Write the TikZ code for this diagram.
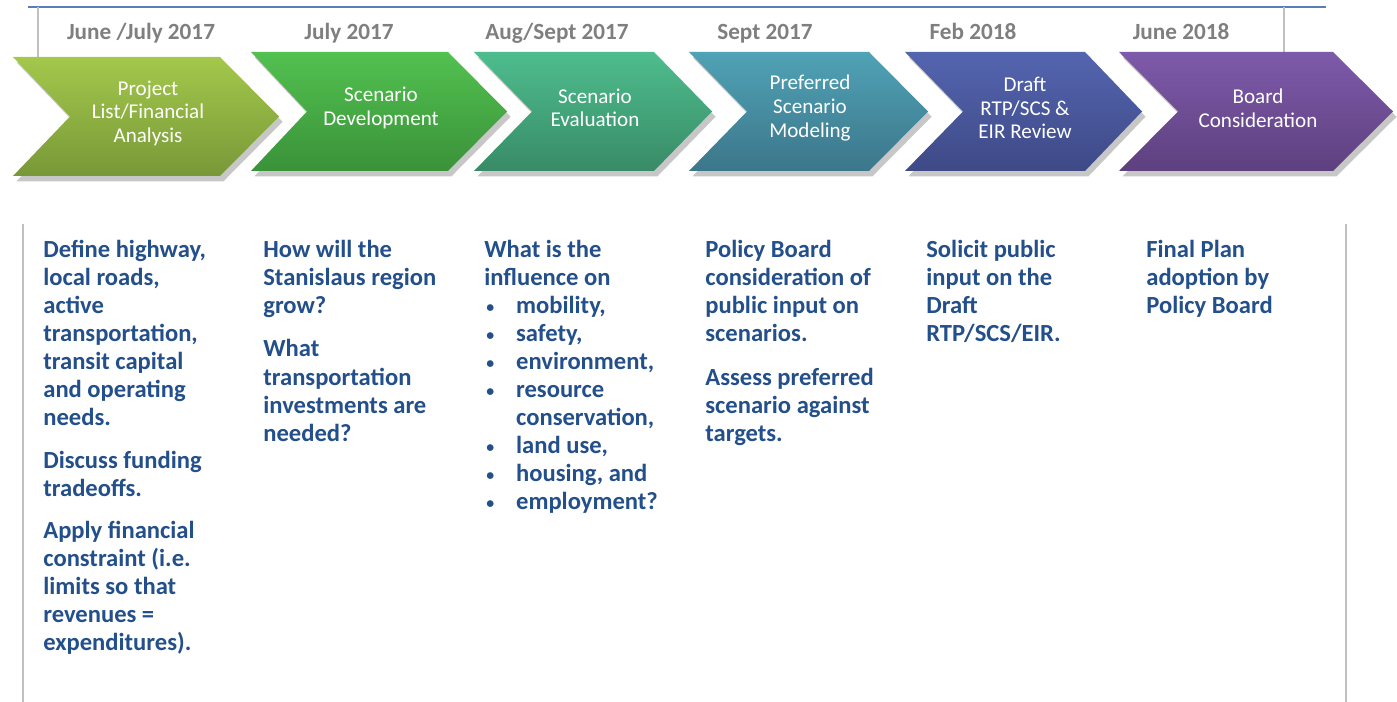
\documentclass[tikz,border=0pt]{standalone}
\usepackage{fontspec}
\setmainfont{Carlito}
\usetikzlibrary{shadows}
\definecolor{ca1}{HTML}{A3C84B}\definecolor{ca2}{HTML}{789838}
\definecolor{cb1}{HTML}{52C150}\definecolor{cb2}{HTML}{3A9239}
\definecolor{cc1}{HTML}{4EBD8E}\definecolor{cc2}{HTML}{388B66}
\definecolor{cd1}{HTML}{50A2B6}\definecolor{cd2}{HTML}{3C768A}
\definecolor{ce1}{HTML}{5465B0}\definecolor{ce2}{HTML}{3E4986}
\definecolor{cf1}{HTML}{7E5AAA}\definecolor{cf2}{HTML}{5E407F}
\definecolor{bodyblue}{HTML}{234F8A}
\definecolor{dategray}{HTML}{7F7F7F}
\definecolor{rulegray}{HTML}{C0C0C0}
\definecolor{topblue}{HTML}{5A7DBA}
\newcommand{\blt}{\makebox[18.1pt][l]{\hspace{1.2pt}\raisebox{0.6pt}{\fontsize{9}{9}\selectfont\textbullet}}}
\begin{document}
\begin{tikzpicture}[x=0.02cm,y=-0.02cm,
  chev/.style n args={2}{top color=#1,bottom color=#2,draw=none,
    drop shadow={opacity=0.22,shadow xshift=2pt,shadow yshift=-3pt,fill=black}},
  chevlabel/.style={align=center,text=white,inner sep=0pt,font=\fontsize{12}{13.4}\selectfont},
  datelabel/.style={anchor=base,inner sep=0pt,text=dategray,font=\fontsize{13.2}{15}\selectfont\bfseries},
  body/.style={anchor=north west,inner sep=0pt,align=left,text=bodyblue,font=\fontsize{14}{15.95}\selectfont\bfseries},
  rule/.style={draw=rulegray,line width=0.6pt},
  topline/.style={draw=topblue,line width=1pt}]
\useasboundingbox[fill=white] (0,0) rectangle (1397,702);
% frame lines
\draw[topline] (28,7) -- (1326,7);
\draw[rule] (38,7) -- (38,57);
\draw[rule] (1284,7) -- (1284,52);
\draw[rule] (23,224) -- (23,702);
\draw[rule] (1346,224) -- (1346,702);
% chevrons
\path[chev={ca1}{ca2}] (13,57) -- (220,57) -- (279,116.5) -- (220,176) -- (13,176) -- (70,116.5) -- cycle;
\path[chev={cb1}{cb2}] (251,52) -- (448,52) -- (507,111.5) -- (448,171) -- (251,171) -- (307,111.5) -- cycle;
\path[chev={cc1}{cc2}] (474,52) -- (654,52) -- (712,111.5) -- (654,171) -- (474,171) -- (532,111.5) -- cycle;
\path[chev={cd1}{cd2}] (689,52) -- (869,52) -- (928,111.5) -- (869,171) -- (689,171) -- (747,111.5) -- cycle;
\path[chev={ce1}{ce2}] (905,52) -- (1085,52) -- (1142,111.5) -- (1085,171) -- (905,171) -- (963,111.5) -- cycle;
\path[chev={cf1}{cf2}] (1119,52) -- (1333,52) -- (1393,111.5) -- (1333,171) -- (1119,171) -- (1178,111.5) -- cycle;
% chevron labels
\node[chevlabel] (s1) at (148,113) {Project\\List/Financial\\Analysis};
\node[chevlabel] (s2) at (381,108) {Scenario\\Development};
\node[chevlabel] (s3) at (595,108) {Scenario\\Evaluation};
\node[chevlabel] (s4) at (810,108) {Preferred\\Scenario\\Modeling};
\node[chevlabel] (s5) at (1025,108) {Draft\\RTP/SCS \&\\EIR Review};
\node[chevlabel] (s6) at (1258,108) {Board\\Consideration};
% dates
\node[datelabel] (d1) at (141,40) {June /July 2017};
\node[datelabel] (d2) at (349,40) {July 2017};
\node[datelabel] (d3) at (557,40) {Aug/Sept 2017};
\node[datelabel] (d4) at (765,40) {Sept 2017};
\node[datelabel] (d5) at (973,40) {Feb 2018};
\node[datelabel] (d6) at (1181,40) {June 2018};
% body text
\node[body] (t1) at (43,239.5) {Define highway,\\local roads,\\active\\transportation,\\transit capital\\and operating\\needs.\\[8.7pt]Discuss funding\\tradeoffs.\\[8pt]Apply financial\\constraint (i.e.\\limits so that\\revenues =\\expenditures).};
\node[body] (t2) at (263,239.5) {How will the\\Stanislaus region\\grow?\\[9pt]What\\transportation\\investments are\\needed?};
\node[body] (t3) at (484,239.5) {What is the\\influence on\\
\blt mobility,\\
\blt safety,\\
\blt environment,\\
\blt resource\\
\makebox[18.1pt][l]{}conservation,\\
\blt land use,\\
\blt housing, and\\
\blt employment?};
\node[body] (t4) at (705,239.5) {Policy Board\\consideration of\\public input on\\scenarios.\\[9pt]Assess preferred\\scenario against\\targets.};
\node[body] (t5) at (926,239.5) {Solicit public\\input on the\\Draft\\RTP/SCS/EIR.};
\node[body] (t6) at (1146,239.5) {Final Plan\\adoption by\\Policy Board};
\end{tikzpicture}
\end{document}
